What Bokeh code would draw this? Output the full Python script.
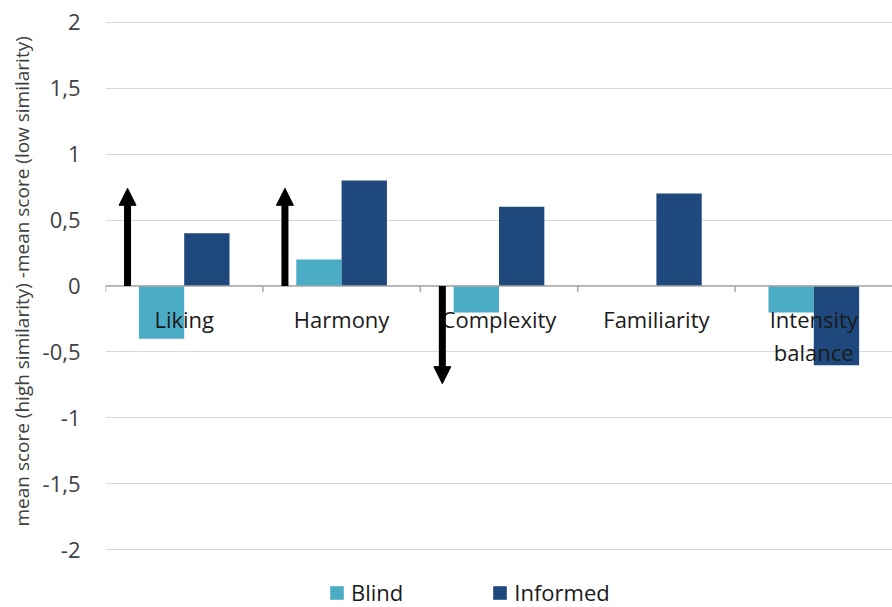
from bokeh.plotting import figure
from bokeh.models import (ColumnDataSource, FactorRange, Range1d, FixedTicker, Legend,
                          LegendItem, Arrow, NormalHead, Span, Title)
from bokeh.transform import dodge
from bokeh.core.properties import value
from bokeh.embed import file_html
from bokeh.resources import INLINE

# ---- data ----
categories = ["Liking", "Harmony", "Complexity", "Familiarity", "Intensity balance"]
category_labels = ["Liking", "Harmony", "Complexity", "Familiarity", "Intensity\nbalance"]
blind = [-0.4, 0.2, -0.2, 0.0, -0.2]
informed = [0.4, 0.8, 0.6, 0.7, -0.6]
arrow_categories = ["Liking", "Harmony", "Complexity"]
arrow_ends = [0.74, 0.74, -0.74]
y_ticks = [-2.0, -1.5, -1.0, -0.5, 0.0, 0.5, 1.0, 1.5, 2.0]
y_tick_labels = ["-2", "-1,5", "-1", "-0,5", "0", "0,5", "1", "1,5", "2"]
series_names = ["Blind", "Informed"]
series_colors = ["#4BACC6", "#1F497D"]
y_title = "mean score (high similarity) -mean score (low similarity)"

FONT = "Open Sans"
TEXT = "#404040"
DARK = "#1a1a1a"

src = ColumnDataSource(dict(cat=categories, label=category_labels, blind=blind,
                            informed=informed, zero=[0.0] * len(categories)))
arrow_src = ColumnDataSource(dict(cat=arrow_categories, y0=[0.0] * len(arrow_categories),
                                  y1=arrow_ends))

# frame runs to the bottom of the canvas so the legend can sit below the -2 gridline
p = figure(x_range=FactorRange(*categories), y_range=Range1d(-2.436, 2.004),
           width=892, height=607, output_backend="svg", toolbar_location=None,
           min_border_left=105, min_border_right=0, min_border_top=21, min_border_bottom=0)
p.outline_line_color = None
p.background_fill_color = "white"

# grid
p.xgrid.grid_line_color = None
p.ygrid.ticker = FixedTicker(ticks=y_ticks)
p.ygrid.grid_line_color = "#D9D9D9"
p.ygrid.grid_line_width = 1

# y axis
p.yaxis.ticker = FixedTicker(ticks=y_ticks)
p.yaxis.major_label_overrides = {t: l for t, l in zip(y_ticks, y_tick_labels)}
p.yaxis.axis_line_color = None
p.yaxis.major_tick_line_color = None
p.yaxis.minor_tick_line_color = None
p.yaxis.major_tick_out = 0
p.yaxis.major_tick_in = 0
p.yaxis.major_label_standoff = 25
p.yaxis.major_label_text_font = FONT
p.yaxis.major_label_text_font_size = "22px"
p.yaxis.major_label_text_color = TEXT

p.add_layout(Title(text=y_title, align="left", offset=81, text_font=FONT,
                   text_font_size="19px", text_font_style="normal", text_color=TEXT),
             "left")

p.xaxis.visible = False

# bars
bar_w = 0.288
rb = p.vbar(x=dodge("cat", -bar_w / 2, range=p.x_range), top="blind", bottom=0,
            width=bar_w, source=src, fill_color=series_colors[0], line_color=None)
ri = p.vbar(x=dodge("cat", bar_w / 2, range=p.x_range), top="informed", bottom=0,
            width=bar_w, source=src, fill_color=series_colors[1], line_color=None)

# zero axis line with boundary ticks
p.add_layout(Span(location=0, dimension="width", line_color="#A6A6A6", line_width=1.5))
p.segment(x0=dodge("cat", -0.5, range=p.x_range), x1=dodge("cat", -0.5, range=p.x_range),
          y0="zero", y1=-0.045, source=src, line_color="#A6A6A6", line_width=1.5)

# category labels
p.text(x="cat", y="zero", text="label", source=src, text_align="center",
       text_baseline="top", y_offset=18, text_font=value(FONT), text_font_size="22px",
       text_color=DARK, text_line_height=1.1)

# arrows
p.add_layout(Arrow(end=NormalHead(size=17, fill_color="black", line_color="black"),
                   x_start=dodge("cat", -0.36, range=p.x_range), y_start="y0",
                   x_end=dodge("cat", -0.36, range=p.x_range), y_end="y1",
                   source=arrow_src, line_color="black", line_width=7))

# legend
legend = Legend(items=[LegendItem(label=series_names[0], renderers=[rb]),
                       LegendItem(label=series_names[1], renderers=[ri])],
                orientation="horizontal", location=(223, 0),
                label_text_font=FONT, label_text_font_size="22px", label_text_color=DARK,
                glyph_width=17, glyph_height=17, spacing=88, label_standoff=6,
                border_line_color=None, background_fill_alpha=0, padding=0, margin=0)
p.add_layout(legend, "center")

open("out.html", "w").write(file_html(p, INLINE))
